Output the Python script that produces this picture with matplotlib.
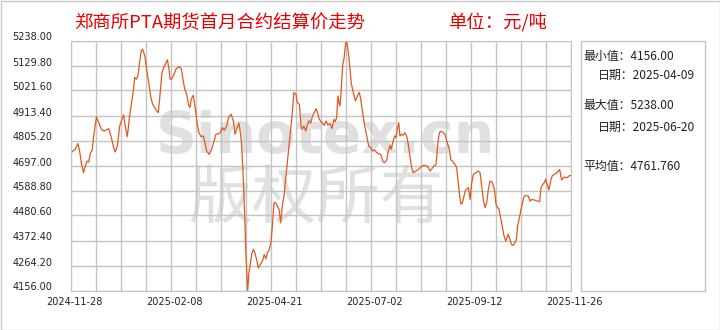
#!/usr/bin/env python3
"""
PTA front-month settlement price chart
"""

import matplotlib
matplotlib.use('Agg')
import matplotlib.pyplot as plt
from matplotlib.patches import Rectangle
from matplotlib.transforms import ScaledTranslation

plt.rcParams['font.family'] = ['Noto Sans CJK SC', 'DejaVu Sans']

# trading day index (0 = 2024-11-28) and settlement price
day = [0.0, 1.2, 2.3, 3.6, 4.4, 5.2, 6.3, 7.1, 8.0, 8.8, 9.6, 10.4, 11.2, 12.5, 13.6, 14.9,
       16.1, 17.3, 18.4, 19.7, 20.8, 21.6, 22.6, 23.7, 24.8, 25.6, 26.4, 27.4, 28.5, 29.3,
       30.3, 30.9, 31.7, 32.5, 33.3, 34.1, 34.8, 35.8, 36.7, 37.7, 38.6, 39.6, 40.6, 41.5,
       42.3, 43.1, 44.1, 44.9, 45.7, 46.7, 47.5, 48.0, 48.9, 49.9, 51.0, 52.3, 53.4, 54.2,
       55.0, 56.0, 57.0, 57.6, 58.2, 59.2, 60.2, 61.1, 61.9, 62.9, 64.0, 64.8, 65.6, 66.8,
       68.0, 69.2, 70.1, 71.3, 72.2, 73.2, 74.1, 75.3, 76.1, 77.4, 78.5, 79.3, 80.3, 81.2,
       82.0, 82.5, 83.1, 83.6, 84.1, 84.4, 84.9, 85.4, 86.0, 86.5, 87.3, 88.1, 88.9, 89.7,
       90.5, 91.5, 92.5, 93.4, 94.2, 94.9, 95.7, 96.6, 97.3, 98.1, 98.9, 99.7, 100.5, 101.3,
       102.1, 102.9, 103.7, 104.5, 105.3, 106.1, 106.9, 107.7, 108.7, 109.3, 110.3, 111.1,
       111.7, 112.5, 113.4, 114.2, 115.0, 115.8, 116.6, 117.5, 118.3, 119.1, 119.9, 121.1,
       122.3, 123.2, 124.1, 125.1, 126.0, 127.0, 127.6, 128.3, 128.9, 129.4, 129.9, 130.4,
       130.9, 131.2, 131.8, 132.3, 132.8, 133.4, 134.1, 134.7, 135.4, 136.3, 137.3, 138.3,
       139.2, 139.9, 140.8, 141.8, 142.8, 143.7, 144.7, 145.6, 146.6, 147.6, 148.5, 149.5,
       150.5, 151.4, 152.4, 153.2, 154.0, 154.6, 155.3, 156.3, 156.9, 157.5, 158.2, 158.8,
       159.6, 160.4, 161.2, 162.0, 162.8, 163.6, 164.4, 165.2, 166.5, 167.8, 169.1, 170.4,
       171.7, 172.5, 173.3, 174.2, 175.2, 176.2, 176.8, 177.5, 178.1, 179.4, 180.5, 181.6,
       182.6, 183.3, 184.0, 185.3, 186.1, 186.9, 187.6, 188.2, 188.9, 189.7, 190.5, 191.3,
       191.8, 192.6, 193.4, 194.2, 195.3, 196.6, 197.4, 198.2, 199.0, 199.8, 200.6, 201.4,
       202.2, 203.3, 204.3, 205.1, 205.9, 206.5, 207.3, 208.1, 208.9, 209.8, 210.4, 211.0,
       211.8, 212.6, 213.4, 214.2, 214.9, 215.5, 216.5, 217.5, 218.4, 219.1, 219.9, 220.7,
       221.5, 222.3, 223.2, 224.2, 225.2, 226.1, 226.8, 227.6, 228.4, 229.0, 229.8, 230.6,
       231.6, 232.2, 233.2, 234.2, 235.1, 235.8, 236.7, 237.5, 238.3, 239.3, 240.3, 241.0]

price = [4750, 4760, 4767, 4792, 4760, 4709, 4666, 4695, 4716, 4712, 4753, 4760, 4825, 4907,
         4883, 4854, 4846, 4851, 4857, 4818, 4774, 4756, 4782, 4868, 4897, 4916, 4868, 4822,
         4912, 4962, 5020, 5078, 5070, 5085, 5143, 5193, 5200, 5172, 5114, 5056, 4998, 4962,
         4948, 4933, 4926, 4998, 5099, 5121, 5135, 5154, 5114, 5070, 5073, 5092, 5117, 5124,
         5117, 5070, 5030, 5005, 4955, 4948, 4984, 5001, 4940, 4875, 4839, 4822, 4825, 4796,
         4760, 4745, 4767, 4803, 4832, 4835, 4839, 4861, 4849, 4868, 4904, 4919, 4890, 4832,
         4861, 4880, 4832, 4782, 4680, 4565, 4449, 4348, 4247, 4156, 4233, 4261, 4312, 4334,
         4319, 4290, 4254, 4269, 4283, 4312, 4293, 4319, 4331, 4363, 4435, 4536, 4536, 4522,
         4507, 4449, 4522, 4565, 4637, 4709, 4782, 4854, 4926, 5013, 5005, 4969, 4962, 4868,
         4854, 4868, 4846, 4875, 4890, 4880, 4912, 4926, 4943, 4926, 4897, 4883, 4871, 4890,
         4871, 4880, 4857, 4897, 4886, 4904, 4998, 4969, 4955, 5013, 5085, 5135, 5157, 5200,
         5238, 5222, 5172, 5114, 5049, 5013, 4977, 4998, 5013, 4984, 4926, 4868, 4825, 4782,
         4774, 4760, 4764, 4753, 4748, 4745, 4716, 4709, 4721, 4760, 4784, 4767, 4796, 4825,
         4818, 4854, 4883, 4825, 4832, 4828, 4839, 4825, 4789, 4738, 4688, 4666, 4673, 4680,
         4692, 4698, 4695, 4688, 4673, 4683, 4695, 4702, 4767, 4825, 4844, 4842, 4832, 4796,
         4767, 4721, 4717, 4702, 4688, 4623, 4565, 4529, 4536, 4565, 4591, 4597, 4601, 4550,
         4623, 4659, 4666, 4673, 4666, 4608, 4550, 4514, 4536, 4594, 4630, 4623, 4594, 4529,
         4514, 4510, 4471, 4435, 4394, 4370, 4384, 4399, 4377, 4355, 4351, 4363, 4377, 4435,
         4478, 4522, 4558, 4568, 4565, 4565, 4543, 4550, 4548, 4546, 4543, 4540, 4601, 4615,
         4623, 4637, 4615, 4591, 4637, 4652, 4659, 4663, 4673, 4680, 4634, 4644, 4647, 4644,
         4652, 4654]

y_min, y_max = 4156.00, 5238.00
n_days = 241
date_labels = ['2024-11-28', '2025-02-08', '2025-04-21', '2025-07-02', '2025-09-12', '2025-11-26']
stat_lines = [('最小值：4156.00', 0), ('日期：2025-04-09', 1),
              ('最大值：5238.00', 0), ('日期：2025-06-20', 1), ('平均值：4761.760', 0)]

W, H = 720, 330
fig = plt.figure(figsize=(W / 100, H / 100), dpi=100)
fig.patch.set_facecolor('white')

# outer frame
fig.add_artist(Rectangle((0.5 / W, 0.5 / H), 719 / W, 329 / H, transform=fig.transFigure,
                         fill=False, edgecolor='#c8c8c8', lw=1))

ax = fig.add_axes([70.5 / W, 39.5 / H, 500 / W, 250 / H])
ax.set_xlim(0, n_days)
ax.set_ylim(y_min, y_max)

# grid: 20 columns, 10 rows
step_x = n_days / 20
step_y = (y_max - y_min) / 10
ax.set_xticks([i * step_x for i in range(21)], minor=True)
ax.set_yticks([y_min + i * step_y for i in range(11)])
ax.set_yticklabels(['%.2f' % (y_min + i * step_y) for i in range(11)])
ax.set_xticks([i * n_days / 5 for i in range(6)])
ax.set_xticklabels(date_labels)
ax.grid(True, which='both', color='#c4c4c4', lw=1)
ax.set_axisbelow(True)
for s in ax.spines.values():
    s.set_color('#c4c4c4')
ax.tick_params(which='both', length=0)
ax.tick_params(axis='y', pad=13, labelsize=7, labelcolor='#222222')
ax.tick_params(axis='x', pad=5, labelsize=7, labelcolor='#222222')
for lab in ax.get_yticklabels():
    lab.set_family('DejaVu Sans')
    lab.set_transform(lab.get_transform() + ScaledTranslation(0, 4 / 100, fig.dpi_scale_trans))
for lab in ax.get_xticklabels():
    lab.set_family('DejaVu Sans')
    lab.set_transform(lab.get_transform() + ScaledTranslation(4 / 100, 0, fig.dpi_scale_trans))

# watermark
fig.text(326 / W, (H - 153) / H, 'Sinotex.cn', color='#e0e0e0', fontsize=41,
         fontweight='bold', family='DejaVu Sans', ha='center', va='baseline', zorder=1)
fig.text(316 / W, (H - 200) / H, '版权所有', color='#e0e0e0', fontsize=46,
         ha='center', va='center', zorder=1)
ax.set_zorder(2)
ax.patch.set_alpha(0)

ax.plot(day, price, color='#e2581e', lw=0.9)

# titles
fig.text(74 / W, (H - 23) / H, '郑商所PTA期货首月合约结算价走势', color='#e60000',
         fontsize=13.2, ha='left', va='center')
fig.text(448 / W, (H - 23) / H, '单位：元/吨', color='#e60000',
         fontsize=13.2, ha='left', va='center')

# stats panel
fig.add_artist(Rectangle((581 / W, 39.5 / H), 124 / W, 250 / H, transform=fig.transFigure,
                         fill=False, edgecolor='#c4c4c4', lw=1))
ys = [56, 75, 106, 127, 166]
for (txt, indent), yy in zip(stat_lines, ys):
    fig.text((583 + indent * 15) / W, (H - yy) / H, txt, fontsize=8.6, color='#222222',
             ha='left', va='center')

fig.savefig('out.png', dpi=100)
